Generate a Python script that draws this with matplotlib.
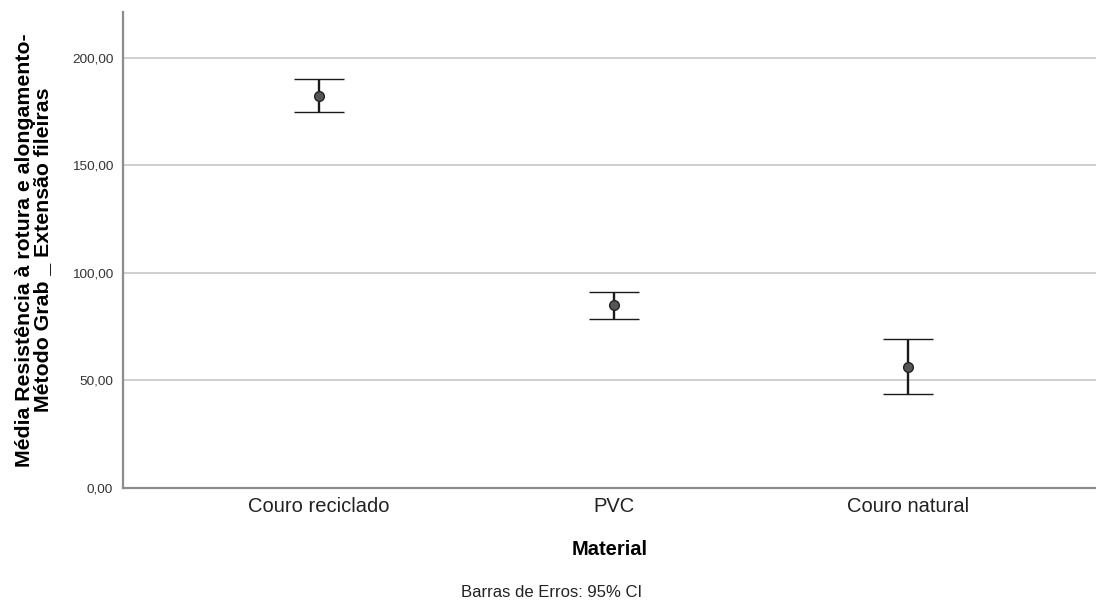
import matplotlib
matplotlib.use("Agg")
import matplotlib.pyplot as plt
from matplotlib.ticker import FuncFormatter

# means and 95% CI bounds per material
materials = ["Couro reciclado", "PVC", "Couro natural"]
means = [182.4, 85.0, 56.3]
ci_low = [175.0, 78.5, 43.5]
ci_high = [190.1, 91.1, 69.2]

plt.rcParams["font.family"] = ["Liberation Sans", "DejaVu Sans"]

fig = plt.figure(figsize=(10.96, 6.03), dpi=100)
ax = fig.add_axes([0.1122, 0.1914, 0.8878, 0.7887])

x = list(range(len(materials)))
err_lo = [m - lo for m, lo in zip(means, ci_low)]
err_hi = [hi - m for m, hi in zip(means, ci_high)]

ax.errorbar(x, means, yerr=[err_lo, err_hi], fmt="o", color="#1a1a1a",
            ecolor="#1a1a1a", elinewidth=1.7, capsize=18, capthick=1.7,
            markersize=7, markerfacecolor="#555555",
            markeredgecolor="#222222", markeredgewidth=1.0, zorder=3)

ax.set_xlim(-0.666, 2.638)
ax.set_ylim(0, 221.4)
ax.set_yticks([0, 50, 100, 150, 200])
ax.yaxis.set_major_formatter(FuncFormatter(lambda v, p: f"{v:.2f}".replace(".", ",")))
ax.set_xticks(x)
ax.set_xticklabels(materials, fontsize=14.5, color="#222222")
ax.tick_params(axis="y", labelsize=9.7, colors="#333333", length=0, pad=7)
ax.tick_params(axis="x", length=0, pad=7)

ax.grid(axis="y", color="#cfcfcf", linewidth=1.4)
ax.set_axisbelow(True)
for side in ["top", "right"]:
    ax.spines[side].set_visible(False)
for side in ["left", "bottom"]:
    ax.spines[side].set_color("#8c8c8c")
    ax.spines[side].set_linewidth(1.6)

ax.set_xlabel("Material", fontsize=14.5, fontweight="bold", labelpad=17)
ax.set_ylabel("Média Resistência à rotura e alongamento-\nMétodo Grab _ Extensão fileiras",
              fontsize=15.3, fontweight="bold", labelpad=14, linespacing=0.95)

fig.text(0.503, 0.018, "Barras de Erros: 95% CI", ha="center", va="center",
         fontsize=12, color="#222222")

fig.savefig("out.png", dpi=100)
